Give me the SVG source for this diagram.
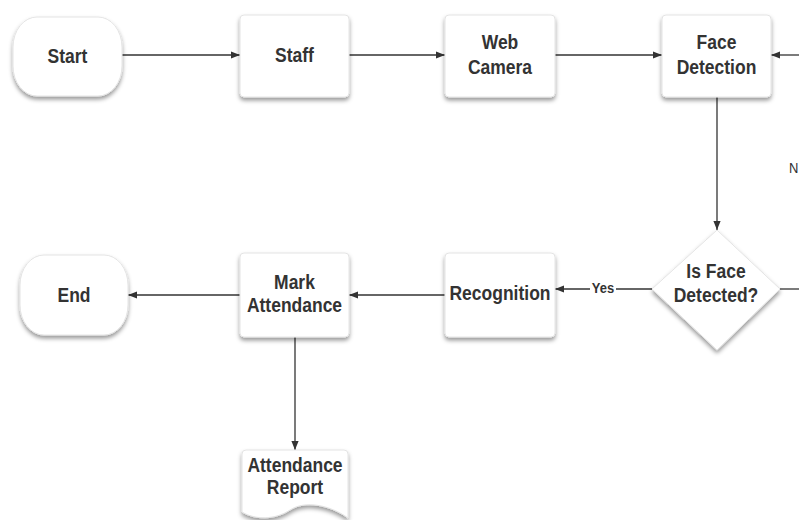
<svg xmlns="http://www.w3.org/2000/svg" width="799" height="520" viewBox="0 0 799 520">
<defs>
<filter id="sh" x="-20%" y="-20%" width="140%" height="150%">
<feDropShadow dx="0" dy="3" stdDeviation="2.2" flood-color="#000" flood-opacity="0.4"/>
</filter>
<marker id="ah" viewBox="0 0 10 10" refX="10" refY="5" markerWidth="9" markerHeight="9" markerUnits="userSpaceOnUse" orient="auto">
<path d="M0,1 L10,5 L0,9 Z" fill="#333"/>
</marker>
<style>
.shape{fill:#fff;stroke:#e4e4e4;stroke-width:1;filter:url(#sh)}
.t{font-family:"Liberation Sans",Arial,sans-serif;font-weight:bold;font-size:17.5px;fill:#333;text-anchor:middle;transform-box:fill-box;transform-origin:center;transform:scaleY(1.18)}
.lbl{font-family:"Liberation Sans",Arial,sans-serif;font-weight:bold;font-size:13px;fill:#333;text-anchor:middle;transform-box:fill-box;transform-origin:center;transform:scaleY(1.15)}
.lbln{font-family:"Liberation Sans",Arial,sans-serif;font-size:13px;fill:#333;transform-box:fill-box;transform-origin:center;transform:scaleY(1.15)}
.c{fill:none;stroke:#333;stroke-width:1.3}
.ca{fill:none;stroke:#333;stroke-width:1.3;marker-end:url(#ah)}
</style>
</defs>
<rect width="799" height="520" fill="#fff"/>
<g id="connectors">
<line class="ca" x1="122" y1="55" x2="240" y2="55"/>
<line class="ca" x1="349" y1="55" x2="445" y2="55"/>
<line class="ca" x1="555" y1="55" x2="662" y2="55"/>
<line class="ca" x1="799" y1="55" x2="771" y2="55"/>
<line class="ca" x1="717" y1="97" x2="717" y2="230"/>
<line class="c" x1="652" y1="289" x2="616" y2="289"/>
<line class="ca" x1="590" y1="289" x2="555" y2="289"/>
<line class="c" x1="780" y1="289" x2="799" y2="289"/>
<line class="ca" x1="445" y1="295" x2="349" y2="295"/>
<line class="ca" x1="240" y1="295" x2="128" y2="295"/>
<line class="ca" x1="295" y1="337" x2="295" y2="450"/>
<text class="lbl" x="603" y="292">Yes</text>
<text class="lbln" x="789" y="172">N</text>
</g>
<g id="start">
<rect class="shape" x="13" y="17" width="109" height="79" rx="24" ry="30"/>
<text class="t" x="67.5" y="62">Start</text>
</g>
<g id="staff">
<rect class="shape" x="240" y="15" width="109" height="82" rx="4"/>
<text class="t" x="294.5" y="61">Staff</text>
</g>
<g id="webcam">
<rect class="shape" x="445" y="15" width="110" height="82" rx="4"/>
<text class="t" x="500" y="48">Web</text>
<text class="t" x="500" y="73">Camera</text>
</g>
<g id="facedet">
<rect class="shape" x="662" y="15" width="109" height="82" rx="4"/>
<text class="t" x="716.5" y="48">Face</text>
<text class="t" x="716.5" y="73">Detection</text>
</g>
<g id="decision">
<path class="shape" d="M717,230 L780,289 L717,350 L652,289 Z" stroke-linejoin="round"/>
<text class="t" x="716" y="277">Is Face</text>
<text class="t" x="716" y="301">Detected?</text>
</g>
<g id="recognition">
<rect class="shape" x="445" y="253" width="110" height="84" rx="4"/>
<text class="t" x="500" y="299">Recognition</text>
</g>
<g id="mark">
<rect class="shape" x="240" y="253" width="109" height="84" rx="4"/>
<text class="t" x="294.5" y="288">Mark</text>
<text class="t" x="294.5" y="311">Attendance</text>
</g>
<g id="end">
<rect class="shape" x="20" y="255" width="108" height="80" rx="24" ry="30"/>
<text class="t" x="74" y="301">End</text>
</g>
<g id="report">
<path class="shape" d="M246,450 L344,450 Q348,450 348,454 L348,518 C330,505 305,500 290,510 C275,520 255,520 242,512 L242,454 Q242,450 246,450 Z"/>
<text class="t" x="295" y="471">Attendance</text>
<text class="t" x="295" y="493">Report</text>
</g>
</svg>
